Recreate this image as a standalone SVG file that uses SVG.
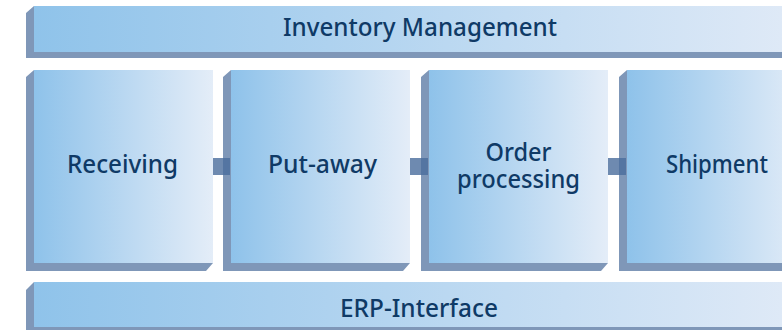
<svg xmlns="http://www.w3.org/2000/svg" width="782" height="330" viewBox="0 0 782 330">
<defs>
<linearGradient id="gBox" x1="0" y1="0" x2="1" y2="0">
<stop offset="0" stop-color="#8ec2ea"/>
<stop offset="1" stop-color="#e4edf8"/>
</linearGradient>
<linearGradient id="gBox4" gradientUnits="userSpaceOnUse" x1="627" y1="0" x2="806" y2="0">
<stop offset="0" stop-color="#8ec2ea"/>
<stop offset="1" stop-color="#e4edf8"/>
</linearGradient>
<linearGradient id="gBar" gradientUnits="userSpaceOnUse" x1="34" y1="0" x2="800" y2="0">
<stop offset="0" stop-color="#8fc3ea"/>
<stop offset="1" stop-color="#e0eaf7"/>
</linearGradient>
<style>
.bevel{fill:#7f97b8}
.t{font-family:"Noto Sans","Open Sans",sans-serif;font-size:26px;font-weight:500;fill:#0f3a66;text-anchor:middle}
.conn{fill:#4a6d9c;fill-opacity:0.8}
</style>
</defs>
<rect width="782" height="330" fill="#ffffff"/>
<g id="inventory-management">
<polygon class="bevel" points="34,6 26,13 26,58 782,58 782,52 34,52"/>
<rect x="34" y="6" width="748" height="46" fill="url(#gBar)"/>
<text class="t" x="420" y="36" textLength="274" lengthAdjust="spacingAndGlyphs">Inventory Management</text>
</g>
<g id="receiving">
<polygon class="bevel" points="34,70 26,77 26,271 206,271 213,263 34,263"/>
<rect x="34" y="70" width="179" height="193" fill="url(#gBox)"/>
<text class="t" x="122.5" y="173" textLength="111" lengthAdjust="spacingAndGlyphs">Receiving</text>
</g>
<g id="put-away">
<polygon class="bevel" points="231,70 223,77 223,271 403,271 410,263 231,263"/>
<rect x="231" y="70" width="179" height="193" fill="url(#gBox)"/>
<text class="t" x="322.5" y="173" textLength="109" lengthAdjust="spacingAndGlyphs">Put-away</text>
</g>
<g id="order-processing">
<polygon class="bevel" points="429,70 421,77 421,271 601,271 608,263 429,263"/>
<rect x="429" y="70" width="179" height="193" fill="url(#gBox)"/>
<text class="t"><tspan x="518.5" y="161" textLength="66" lengthAdjust="spacingAndGlyphs">Order</tspan><tspan x="518.5" y="188" textLength="123" lengthAdjust="spacingAndGlyphs">processing</tspan></text>
</g>
<g id="shipment">
<polygon class="bevel" points="627,70 619,77 619,271 782,271 782,263 627,263"/>
<rect x="627" y="70" width="155" height="193" fill="url(#gBox4)"/>
<text class="t" x="717" y="173" textLength="102" lengthAdjust="spacingAndGlyphs">Shipment</text>
</g>
<g id="erp-interface">
<polygon class="bevel" points="34,282 26,290 26,330 782,330 782,327 34,327"/>
<rect x="34" y="282" width="748" height="45" fill="url(#gBar)"/>
<text class="t" x="419" y="317" textLength="158" lengthAdjust="spacingAndGlyphs">ERP-Interface</text>
</g>
<g id="connectors">
<rect class="conn" x="213" y="158" width="17" height="17"/>
<rect class="conn" x="410" y="158" width="18" height="17"/>
<rect class="conn" x="608" y="158" width="18" height="17"/>
</g>
</svg>
